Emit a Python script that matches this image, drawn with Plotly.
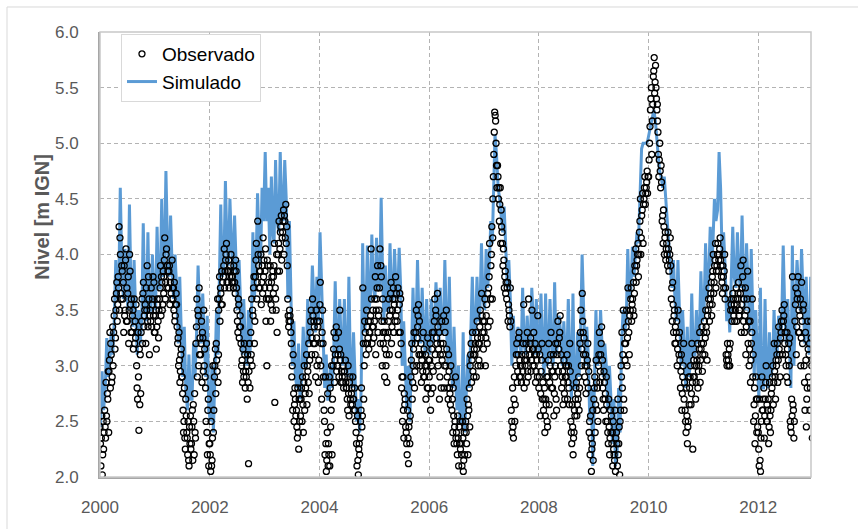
import pandas as pd
import plotly.graph_objects as go

# Nivel observado (m IGN): diez lecturas por mes, de enero a diciembre (dos meses por fila)
obs_2000 = [2.45, 2.30, 2.10, 2.35, 2.55, 2.02, 2.20, 2.50, 2.25, 2.40, 2.60, 2.45, 2.35, 2.85, 2.55, 2.50, 2.75, 2.70, 2.95, 2.40,
            2.95, 3.05, 3.30, 2.80, 3.20, 3.10, 2.85, 2.90, 3.35, 3.00, 3.30, 3.45, 3.60, 3.15, 3.25, 3.50, 3.65, 3.75, 3.40, 3.55,
            3.80, 3.70, 4.25, 3.50, 4.15, 4.00, 3.65, 3.60, 3.90, 3.85, 3.60, 3.75, 3.30, 3.90, 3.45, 3.50, 3.95, 4.05, 3.40, 3.70,
            3.40, 3.65, 3.80, 3.20, 3.50, 4.00, 3.85, 3.55, 3.30, 3.60, 3.30, 3.45, 3.50, 3.15, 3.35, 3.60, 3.20, 3.40, 3.25, 3.55,
            3.00, 2.80, 2.70, 3.30, 2.90, 2.42, 3.15, 2.65, 3.10, 2.75, 3.30, 3.40, 3.60, 3.20, 3.65, 3.75, 3.35, 3.45, 3.50, 3.55,
            3.20, 3.70, 3.50, 3.90, 3.40, 3.35, 3.80, 3.60, 3.10, 3.45, 3.50, 3.40, 3.70, 3.35, 3.55, 3.60, 3.80, 3.45, 3.75, 3.30]
obs_2001 = [3.30, 3.45, 3.50, 3.15, 3.35, 3.60, 3.55, 3.40, 3.25, 3.50, 3.60, 3.70, 3.90, 3.45, 3.80, 3.75, 3.50, 3.55, 3.85, 3.65,
            3.80, 3.95, 4.15, 3.60, 3.75, 4.00, 4.05, 3.70, 3.90, 3.85, 3.70, 3.85, 3.90, 3.55, 3.75, 3.80, 3.65, 3.60, 3.95, 3.70,
            3.60, 3.70, 3.50, 3.75, 3.40, 3.45, 3.55, 3.65, 3.55, 3.35, 3.20, 3.25, 3.00, 3.30, 3.05, 2.85, 2.95, 3.10, 3.15, 2.90,
            2.90, 2.75, 2.60, 2.40, 2.50, 2.80, 2.35, 2.25, 2.70, 2.55, 2.40, 2.35, 2.20, 2.50, 2.15, 2.10, 2.45, 2.30, 2.55, 2.25,
            2.30, 2.45, 2.60, 2.15, 2.65, 2.50, 2.20, 2.75, 2.40, 2.35, 3.20, 3.35, 3.60, 2.90, 3.50, 3.45, 3.00, 3.70, 3.10, 3.25,
            3.10, 3.20, 3.40, 2.85, 3.30, 3.25, 2.95, 3.50, 3.00, 3.15, 2.90, 2.80, 2.50, 3.20, 2.40, 2.20, 2.60, 2.70, 2.10, 2.30]
obs_2002 = [2.30, 2.20, 2.05, 2.50, 2.10, 2.15, 2.35, 3.00, 2.40, 2.60, 2.90, 3.00, 3.15, 2.75, 3.20, 3.05, 2.95, 3.60, 2.85, 3.10,
            3.50, 3.60, 3.80, 3.40, 3.70, 3.65, 3.55, 3.85, 3.55, 3.75, 3.80, 3.90, 4.05, 3.70, 3.85, 3.95, 4.00, 4.10, 3.75, 3.85,
            3.75, 3.85, 3.95, 3.70, 3.80, 3.85, 3.90, 4.00, 3.80, 3.75, 3.80, 3.75, 3.70, 3.90, 3.85, 3.75, 3.65, 3.95, 3.85, 3.70,
            3.50, 3.40, 3.30, 3.60, 3.55, 3.25, 3.35, 3.45, 3.35, 3.20, 3.00, 3.05, 2.85, 3.15, 2.95, 2.90, 3.20, 3.10, 2.80, 2.95,
            2.90, 3.00, 2.70, 3.10, 2.85, 2.12, 2.95, 3.20, 2.80, 3.05, 3.30, 3.10, 3.60, 3.00, 3.50, 3.45, 3.70, 3.80, 3.20, 3.40,
            3.80, 3.95, 4.10, 3.60, 3.75, 4.30, 4.00, 3.90, 3.70, 3.85, 3.70, 3.85, 4.00, 3.55, 3.75, 3.90, 3.65, 4.15, 3.80, 3.95]
obs_2003 = [3.70, 3.85, 4.05, 3.40, 3.60, 3.00, 3.95, 3.90, 3.60, 3.75, 3.60, 3.70, 3.90, 3.40, 3.55, 3.75, 3.80, 3.50, 3.85, 3.65,
            3.80, 3.90, 4.10, 2.67, 3.70, 3.60, 3.50, 4.00, 3.30, 3.85, 4.00, 4.10, 4.30, 3.85, 4.05, 4.20, 4.25, 4.35, 3.95, 4.15,
            4.20, 4.30, 4.40, 4.00, 4.35, 4.30, 4.15, 4.45, 4.10, 4.25, 3.90, 3.60, 3.45, 3.35, 3.40, 3.50, 3.45, 3.40, 3.30, 3.20,
            2.90, 3.00, 2.60, 3.10, 2.75, 2.50, 2.65, 2.80, 2.70, 2.55, 2.60, 2.45, 2.35, 2.80, 2.40, 2.25, 2.70, 2.50, 2.70, 2.55,
            2.70, 2.80, 2.50, 2.90, 2.65, 2.40, 2.85, 3.00, 2.60, 2.75, 2.80, 2.90, 3.10, 2.65, 3.00, 2.95, 2.85, 3.20, 2.75, 3.05,
            3.30, 3.40, 3.50, 3.10, 3.25, 3.60, 3.45, 3.20, 3.40, 3.35, 3.20, 3.10, 2.90, 3.50, 3.25, 3.00, 3.40, 3.35, 2.85, 3.05]
obs_2004 = [3.40, 3.55, 3.75, 3.00, 3.20, 2.70, 3.30, 3.50, 3.20, 2.90, 2.60, 2.50, 2.20, 2.90, 2.30, 2.05, 2.15, 2.40, 2.75, 2.10,
            2.30, 2.20, 2.90, 2.10, 2.80, 2.45, 2.60, 3.00, 2.20, 2.70, 3.00, 3.15, 3.30, 2.85, 3.05, 3.10, 3.25, 3.35, 2.95, 3.00,
            3.00, 3.10, 3.30, 2.90, 3.15, 3.50, 3.05, 3.10, 2.85, 2.95, 2.90, 2.85, 3.00, 2.80, 2.95, 2.95, 2.90, 3.05, 2.85, 2.80,
            2.80, 2.70, 2.60, 3.00, 2.75, 2.55, 2.85, 2.90, 2.70, 2.65, 2.75, 2.80, 2.65, 2.90, 2.70, 2.70, 2.60, 2.80, 2.60, 2.50,
            2.40, 2.30, 2.10, 2.55, 2.15, 2.02, 2.25, 2.30, 2.20, 2.35, 2.50, 2.60, 2.80, 2.45, 2.55, 3.70, 3.20, 2.70, 3.00, 3.40,
            3.30, 3.20, 3.10, 3.50, 3.35, 3.20, 3.25, 3.40, 3.15, 3.30, 3.30, 3.40, 3.45, 4.05, 3.60, 3.20, 3.35, 3.50, 3.35, 3.25]
obs_2005 = [3.40, 3.60, 3.80, 3.10, 3.50, 3.60, 3.70, 3.90, 3.30, 3.45, 3.50, 3.70, 4.05, 3.20, 3.90, 3.80, 3.40, 3.00, 3.60, 3.30,
            3.20, 3.30, 3.40, 2.90, 3.15, 3.30, 3.00, 3.10, 2.85, 3.25, 3.30, 3.40, 3.60, 3.10, 3.45, 3.50, 3.65, 3.75, 3.20, 3.35,
            3.50, 3.60, 3.70, 3.30, 3.55, 3.60, 3.40, 3.80, 3.45, 3.65, 3.40, 3.50, 3.70, 3.10, 3.30, 3.55, 3.65, 3.30, 3.60, 3.20,
            2.80, 2.90, 2.50, 2.90, 2.60, 2.35, 2.75, 2.65, 2.70, 2.45, 2.40, 2.30, 2.20, 2.60, 2.35, 2.12, 2.45, 2.50, 2.30, 2.55,
            2.90, 3.05, 3.20, 2.70, 2.85, 3.00, 3.15, 3.30, 2.80, 2.95, 3.20, 3.30, 3.50, 3.00, 3.25, 3.35, 3.45, 3.55, 3.10, 3.40,
            3.00, 3.10, 3.20, 2.85, 3.05, 3.10, 2.95, 3.30, 2.90, 3.15, 2.90, 3.00, 3.10, 2.70, 2.95, 3.00, 2.80, 3.25, 2.80, 3.05]
obs_2006 = [2.90, 3.05, 3.20, 2.60, 2.75, 3.00, 3.15, 3.30, 2.80, 2.95, 3.30, 3.40, 3.60, 3.10, 3.50, 3.45, 3.25, 3.20, 3.65, 3.35,
            3.00, 3.15, 3.30, 2.70, 2.90, 3.10, 3.20, 2.80, 3.40, 3.05, 3.10, 3.20, 3.45, 2.80, 3.00, 3.30, 3.40, 3.00, 3.50, 3.15,
            2.90, 2.80, 2.70, 3.10, 2.95, 2.80, 2.75, 2.65, 3.00, 2.85, 2.60, 2.70, 2.40, 2.80, 2.55, 2.30, 2.45, 2.50, 2.90, 2.35,
            2.40, 2.30, 2.20, 2.55, 2.35, 2.10, 2.45, 2.30, 2.50, 2.25, 2.30, 2.20, 2.10, 2.50, 2.35, 2.05, 2.15, 2.40, 2.20, 2.45,
            2.50, 2.40, 2.30, 2.70, 2.55, 2.20, 2.65, 2.60, 2.80, 2.45, 3.00, 3.10, 3.20, 2.85, 3.05, 3.30, 2.95, 3.10, 2.90, 3.15,
            3.10, 3.20, 3.30, 2.90, 3.15, 3.40, 3.25, 3.00, 3.20, 3.05, 3.20, 3.35, 3.50, 3.00, 3.25, 3.65, 3.45, 3.30, 3.40, 3.15]
obs_2007 = [3.30, 3.40, 3.60, 3.00, 3.25, 3.45, 3.55, 3.20, 3.65, 3.35, 3.70, 3.80, 4.10, 3.40, 3.60, 3.90, 4.00, 4.25, 3.60, 4.15,
            4.50, 4.70, 4.90, 5.10, 5.28, 5.25, 5.20, 5.00, 4.80, 4.60, 4.80, 4.70, 4.50, 4.60, 4.30, 4.45, 4.60, 4.10, 4.40, 4.25,
            4.20, 4.10, 3.90, 4.05, 3.95, 3.70, 3.80, 3.85, 3.65, 3.75, 3.60, 3.70, 3.75, 3.40, 3.55, 3.50, 3.45, 3.35, 3.70, 3.40,
            2.60, 2.50, 2.40, 2.80, 2.45, 2.35, 2.70, 2.90, 2.50, 2.65, 3.00, 3.10, 3.20, 2.85, 2.95, 3.10, 3.25, 3.30, 2.90, 3.05,
            3.00, 2.90, 2.85, 3.10, 3.00, 2.95, 3.20, 3.55, 2.80, 3.05, 3.00, 3.10, 3.20, 2.85, 3.05, 3.30, 2.95, 2.90, 3.60, 3.15,
            3.10, 3.20, 3.25, 2.95, 3.05, 3.50, 3.15, 3.00, 3.15, 3.30, 3.00, 3.10, 3.20, 2.85, 2.95, 3.10, 3.05, 2.90, 3.45, 3.15]
obs_2008 = [2.80, 2.90, 3.10, 2.55, 2.75, 2.95, 3.05, 3.20, 2.70, 2.85, 2.60, 2.70, 2.80, 2.40, 2.55, 2.70, 2.65, 2.90, 2.50, 2.45,
            2.90, 3.05, 3.20, 2.65, 2.85, 3.00, 3.10, 3.30, 2.80, 2.95, 2.80, 2.95, 3.10, 2.55, 2.75, 2.90, 3.00, 3.20, 2.70, 2.60,
            3.10, 3.20, 3.40, 2.95, 3.15, 3.25, 3.30, 3.45, 3.00, 3.10, 2.80, 2.90, 2.95, 2.65, 2.85, 3.05, 2.75, 2.70, 2.90, 3.00,
            2.90, 3.00, 3.10, 2.70, 2.85, 3.00, 2.80, 2.65, 3.20, 2.95, 2.50, 2.40, 2.30, 2.65, 2.45, 2.20, 2.35, 2.40, 2.60, 2.55,
            2.70, 2.80, 2.85, 2.55, 2.65, 2.75, 2.70, 2.90, 2.60, 2.80, 3.20, 3.30, 3.50, 3.00, 3.15, 3.65, 3.40, 3.30, 3.10, 3.25,
            2.90, 3.00, 3.10, 2.75, 2.85, 3.00, 3.05, 3.20, 2.80, 2.95, 2.40, 2.50, 2.20, 2.55, 2.35, 2.05, 2.25, 2.30, 2.60, 2.15]
obs_2009 = [2.70, 2.80, 2.90, 2.40, 2.65, 3.05, 2.85, 2.60, 2.80, 2.50, 3.00, 3.10, 3.30, 2.85, 2.95, 3.10, 3.20, 3.35, 2.90, 3.05,
            2.80, 2.70, 2.60, 2.95, 2.85, 2.70, 2.75, 2.50, 2.90, 2.65, 2.50, 2.40, 2.30, 2.70, 2.45, 2.20, 2.35, 2.60, 2.40, 2.55,
            2.30, 2.40, 2.10, 2.50, 2.25, 2.20, 2.15, 2.60, 2.05, 2.35, 2.40, 2.30, 2.10, 2.70, 2.20, 2.30, 2.45, 2.02, 2.50, 2.60,
            3.00, 2.90, 3.30, 2.80, 3.10, 3.50, 2.70, 2.60, 3.20, 3.05, 3.20, 3.35, 3.50, 3.00, 3.25, 3.70, 3.40, 3.30, 3.10, 3.45,
            3.50, 3.60, 3.70, 3.40, 3.55, 3.60, 3.50, 3.75, 3.45, 3.65, 3.90, 3.85, 4.05, 3.75, 3.90, 3.95, 4.00, 4.10, 3.80, 4.00,
            4.20, 4.30, 4.50, 4.00, 4.15, 4.35, 4.40, 4.55, 4.10, 4.45, 4.50, 4.60, 4.70, 4.45, 4.55, 4.60, 4.65, 4.75, 4.55, 4.70]
obs_2010 = [4.70, 4.85, 5.00, 5.15, 5.30, 5.40, 5.50, 4.90, 5.20, 5.35, 5.60, 5.65, 5.77, 5.45, 5.55, 5.70, 5.50, 5.40, 5.30, 5.35,
            5.20, 5.10, 4.90, 4.70, 4.85, 5.00, 4.75, 4.60, 4.80, 4.65, 4.30, 4.35, 4.10, 4.40, 4.25, 4.00, 4.15, 4.20, 3.95, 4.05,
            4.10, 4.00, 3.90, 4.20, 4.05, 3.85, 3.95, 4.00, 4.15, 3.90, 3.60, 3.70, 3.40, 3.75, 3.55, 3.30, 3.45, 3.50, 3.20, 3.35,
            3.20, 3.30, 3.40, 3.00, 3.15, 3.50, 3.25, 3.10, 3.30, 3.05, 2.80, 2.95, 3.10, 2.60, 2.75, 2.90, 3.00, 3.20, 2.70, 2.85,
            2.60, 2.50, 2.40, 2.80, 2.55, 2.30, 2.45, 2.50, 2.90, 2.65, 2.80, 2.90, 3.00, 2.65, 2.75, 3.20, 2.85, 2.25, 2.90, 3.05,
            2.90, 3.00, 3.10, 2.70, 2.85, 3.00, 3.05, 3.20, 2.80, 2.95, 3.00, 3.15, 3.30, 2.85, 3.05, 3.15, 3.20, 3.35, 2.95, 3.10]
obs_2011 = [3.20, 3.30, 3.40, 3.10, 3.25, 3.50, 3.35, 3.30, 3.05, 3.45, 3.50, 3.60, 3.70, 3.40, 3.55, 3.60, 3.65, 3.75, 3.45, 3.55,
            3.80, 3.85, 4.00, 3.65, 3.75, 3.90, 3.95, 4.10, 3.70, 3.85, 3.90, 4.00, 4.10, 3.85, 3.95, 4.00, 4.05, 4.15, 3.95, 3.90,
            3.80, 3.75, 3.65, 3.90, 3.80, 3.70, 3.85, 4.00, 3.60, 3.70, 3.10, 3.05, 3.00, 3.20, 3.10, 3.05, 3.00, 3.15, 3.00, 3.20,
            3.50, 3.55, 3.60, 3.40, 3.50, 3.65, 3.60, 3.45, 3.55, 3.40, 3.50, 3.60, 3.70, 3.40, 3.55, 3.60, 3.65, 3.75, 3.45, 3.50,
            3.50, 3.65, 3.90, 3.30, 3.55, 3.70, 3.80, 3.95, 3.40, 3.60, 3.30, 3.45, 3.70, 3.10, 3.35, 3.50, 3.60, 3.85, 3.20, 3.40,
            3.00, 3.15, 3.40, 2.85, 3.05, 3.20, 3.30, 3.60, 2.90, 3.10, 2.50, 2.65, 2.80, 2.30, 2.55, 2.90, 2.70, 2.40, 2.70, 2.45]
obs_2012 = [2.40, 2.25, 2.10, 2.70, 2.15, 2.05, 2.35, 2.50, 2.90, 2.60, 2.60, 2.70, 2.80, 2.35, 2.55, 2.70, 2.85, 3.00, 2.50, 2.65,
            2.50, 2.60, 2.70, 2.30, 2.45, 2.85, 2.55, 2.40, 2.60, 2.75, 2.80, 2.90, 3.00, 2.65, 2.85, 3.20, 2.95, 2.90, 2.70, 3.05,
            3.00, 3.10, 3.20, 2.85, 3.05, 3.35, 3.15, 3.10, 2.90, 3.25, 3.30, 3.40, 3.50, 3.10, 3.35, 3.40, 3.45, 3.55, 3.20, 3.30,
            3.10, 3.00, 2.90, 3.30, 3.15, 2.85, 3.05, 3.20, 3.00, 3.25, 2.50, 2.45, 2.40, 2.70, 2.55, 3.80, 2.65, 2.60, 2.35, 2.50,
            3.40, 3.55, 3.70, 3.10, 3.35, 3.60, 3.65, 3.80, 3.30, 3.50, 3.30, 3.45, 3.60, 3.00, 3.25, 3.75, 3.40, 3.20, 3.50, 3.55,
            3.00, 2.85, 2.60, 3.30, 3.05, 2.45, 2.70, 2.80, 3.40, 3.15, 2.90, 3.10, 3.20, 2.60, 2.80, 3.40, 3.25, 3.00, 2.35, 3.05]

# Nivel simulado (m IGN): tres valores por mes, de enero a diciembre
sim_2000 = [2.45, 2.95, 2.60, 2.80, 3.25, 2.90, 3.00, 3.30, 3.10, 3.40, 3.95, 3.60,
            3.70, 4.60, 3.90, 3.60, 4.05, 3.70, 3.50, 4.45, 3.70, 3.35, 3.95, 3.50,
            3.10, 3.50, 3.20, 3.40, 4.28, 3.60, 3.40, 4.20, 3.50, 3.50, 4.00, 3.60]
sim_2001 = [3.50, 4.25, 3.70, 3.70, 4.50, 3.80, 3.90, 4.75, 4.10, 3.80, 4.35, 3.90,
            3.60, 4.00, 3.70, 3.20, 3.80, 3.30, 2.90, 3.35, 2.80, 2.60, 3.10, 2.70,
            2.70, 3.20, 2.90, 3.30, 3.90, 3.50, 3.20, 3.65, 3.30, 2.90, 3.45, 2.60]
sim_2002 = [2.50, 3.00, 2.40, 2.90, 3.50, 3.10, 3.60, 4.45, 3.80, 3.90, 4.66, 4.10,
            3.90, 4.50, 4.10, 3.85, 4.35, 3.95, 3.50, 3.95, 3.60, 3.10, 3.60, 3.20,
            3.00, 3.50, 3.10, 3.40, 4.20, 3.60, 3.90, 4.55, 4.10, 3.90, 4.60, 4.30]
sim_2003 = [4.92, 4.30, 4.60, 4.00, 4.70, 4.20, 4.10, 4.85, 4.30, 4.20, 4.92, 4.40,
            4.30, 4.85, 4.50, 3.60, 4.30, 3.50, 3.00, 3.40, 2.90, 2.80, 3.20, 2.70,
            2.90, 3.35, 3.00, 3.00, 3.60, 3.20, 3.40, 3.90, 3.50, 3.30, 3.80, 3.40]
sim_2004 = [4.20, 3.60, 3.30, 2.80, 3.10, 2.70, 2.70, 3.00, 2.80, 3.10, 3.76, 3.20,
            3.10, 3.60, 3.20, 3.00, 3.60, 3.10, 2.90, 3.80, 3.00, 2.80, 3.30, 2.90,
            2.50, 2.70, 2.40, 2.80, 4.10, 3.30, 3.40, 4.08, 3.50, 3.60, 4.18, 3.70]
sim_2005 = [3.60, 4.15, 3.70, 3.70, 4.51, 3.80, 3.40, 3.90, 3.50, 3.50, 4.10, 3.60,
            3.60, 4.05, 3.70, 3.60, 4.06, 3.70, 3.00, 3.40, 2.90, 2.60, 3.00, 2.50,
            3.10, 3.70, 3.20, 3.30, 3.95, 3.40, 3.20, 3.70, 3.30, 3.10, 3.60, 3.20]
sim_2006 = [3.10, 3.60, 3.20, 3.40, 3.75, 3.50, 3.20, 3.70, 3.30, 3.30, 3.95, 3.40,
            3.00, 3.80, 3.10, 2.80, 3.35, 2.90, 2.60, 3.00, 2.50, 2.50, 3.30, 2.40,
            2.70, 3.10, 2.80, 3.20, 3.80, 3.30, 3.30, 3.80, 3.40, 3.50, 4.10, 3.60]
sim_2007 = [3.50, 4.05, 3.70, 3.90, 4.30, 4.10, 4.60, 5.08, 4.90, 4.60, 4.50, 4.35,
            4.20, 4.43, 4.00, 3.70, 3.95, 3.60, 3.00, 3.45, 3.10, 3.10, 3.35, 3.20,
            3.10, 3.70, 3.20, 3.10, 3.45, 3.20, 3.20, 3.70, 3.30, 3.10, 3.60, 3.20]
sim_2008 = [3.10, 3.65, 3.20, 2.90, 3.65, 3.00, 3.10, 3.60, 3.20, 3.00, 3.75, 3.10,
            3.20, 3.45, 3.30, 3.00, 3.40, 3.10, 3.00, 3.60, 3.10, 2.70, 3.65, 2.80,
            2.80, 3.30, 2.90, 3.30, 4.00, 3.40, 3.00, 3.35, 3.10, 2.50, 2.80, 2.10]
sim_2009 = [2.90, 3.50, 3.00, 3.10, 3.50, 3.20, 2.90, 3.20, 3.00, 2.60, 3.00, 2.70,
            2.30, 2.70, 2.10, 2.20, 2.80, 2.40, 3.20, 3.50, 3.30, 3.40, 4.05, 3.60,
            3.70, 4.07, 3.80, 4.00, 4.20, 4.10, 4.50, 4.95, 5.00, 5.00, 5.00, 5.02]
sim_2010 = [5.10, 5.15, 5.25, 5.30, 5.20, 5.00, 4.90, 4.75, 4.70, 4.60, 4.70, 4.50,
            4.30, 4.00, 3.90, 3.70, 3.95, 3.60, 3.40, 3.95, 3.50, 3.00, 3.50, 3.10,
            2.80, 3.35, 2.90, 3.00, 3.65, 3.10, 3.10, 3.50, 3.20, 3.30, 3.85, 3.40]
sim_2011 = [3.50, 4.10, 3.60, 3.80, 4.25, 3.90, 4.10, 4.50, 4.30, 4.40, 4.92, 4.60,
            4.00, 4.20, 3.90, 3.40, 3.60, 3.30, 3.70, 4.25, 3.80, 3.70, 4.20, 3.80,
            3.70, 4.35, 3.80, 3.50, 4.10, 3.60, 3.30, 4.05, 3.40, 2.90, 3.50, 3.00]
sim_2012 = [2.70, 3.70, 2.80, 2.80, 3.60, 2.90, 2.80, 3.30, 2.90, 3.00, 3.50, 3.10,
            3.10, 3.45, 3.20, 3.40, 4.08, 3.50, 3.20, 3.60, 3.10, 2.80, 4.08, 3.00,
            3.60, 3.95, 3.70, 3.50, 4.05, 3.60, 3.20, 3.80, 3.30, 3.10, 3.80, 3.30]

years = list(range(2000, 2013))
obs_by_year = [obs_2000, obs_2001, obs_2002, obs_2003, obs_2004, obs_2005, obs_2006,
               obs_2007, obs_2008, obs_2009, obs_2010, obs_2011, obs_2012]
sim_by_year = [sim_2000, sim_2001, sim_2002, sim_2003, sim_2004, sim_2005, sim_2006,
               sim_2007, sim_2008, sim_2009, sim_2010, sim_2011, sim_2012]
tick_years = [2000, 2002, 2004, 2006, 2008, 2010, 2012]

OBS_DAYS = (1, 4, 7, 10, 13, 16, 19, 22, 25, 28)
SIM_DAYS = (5, 15, 25)


def month_dates(year, days):
    return [pd.Timestamp(year, m, d) for m in range(1, 13) for d in days]


obs_x, obs_y, sim_x, sim_y = [], [], [], []
for yr, ov, sv in zip(years, obs_by_year, sim_by_year):
    od = month_dates(yr, OBS_DAYS)
    sd = month_dates(yr, SIM_DAYS)
    assert len(od) == len(ov) and len(sd) == len(sv), yr
    obs_x += od
    obs_y += ov
    sim_x += sd
    sim_y += sv

FONT = "Liberation Sans"
GREY = "#595959"

fig = go.Figure()
fig.add_trace(go.Scatter(
    x=sim_x, y=sim_y, mode="lines", name="Simulado",
    line=dict(color="#5B9BD5", width=3), legendrank=2,
))
fig.add_trace(go.Scatter(
    x=obs_x, y=obs_y, mode="markers", name="Observado",
    marker=dict(symbol="circle-open", size=6, color="black", line=dict(width=1.3)),
    legendrank=1,
))

axis_common = dict(
    showgrid=True, gridcolor="#b3b3b3", gridwidth=1, griddash="4px,3px",
    showline=True, linecolor="#a6a6a6", linewidth=2, ticks="", zeroline=False,
    tickfont=dict(family=FONT, size=17, color=GREY),
)

fig.update_layout(
    width=858, height=529,
    margin=dict(l=100, r=47, t=32, b=52),
    paper_bgcolor="white", plot_bgcolor="white",
    xaxis=dict(
        type="date", range=["2000-01-01", "2012-12-17"],
        tickvals=[pd.Timestamp(y, 1, 1) for y in tick_years],
        ticktext=[str(y) for y in tick_years],
        ticklabelstandoff=14, **axis_common,
    ),
    yaxis=dict(
        range=[2, 6], tick0=2, dtick=0.5, tickformat=".1f",
        ticklabelstandoff=16, **axis_common,
    ),
    legend=dict(
        x=0.0295, y=0.9955, xanchor="left", yanchor="top",
        bgcolor="white", bordercolor="#d9d9d9", borderwidth=1,
        font=dict(family=FONT, size=19, color="black"),
        itemwidth=30, tracegroupgap=0,
    ),
    showlegend=True,
    annotations=[dict(
        text="<b>Nivel [m IGN]</b>", textangle=-90,
        xref="paper", yref="paper", x=-0.0816, y=0.585,
        xanchor="center", yanchor="middle", showarrow=False,
        font=dict(family=FONT, size=20, color=GREY),
    )],
    shapes=[
        dict(type="rect", xref="paper", yref="paper", x0=0, x1=1, y0=0, y1=1,
             line=dict(color="#c8c8c8", width=1.5), layer="above"),
        dict(type="rect", xref="paper", yref="paper",
             x0=-0.1308, x1=1.08, y0=-0.16, y1=1.0562,
             line=dict(color="#d9d9d9", width=1), layer="below"),
    ],
)

fig.write_html("out.html")
